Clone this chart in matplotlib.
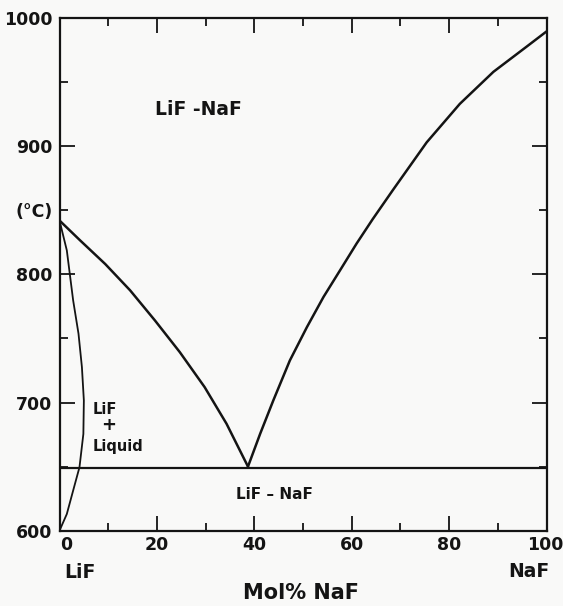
import matplotlib
matplotlib.use("Agg")
import matplotlib.pyplot as plt
from matplotlib.transforms import ScaledTranslation

# ---- data ----
liq_lif_x = [0, 4.2, 9.4, 14.5, 19.6, 24.7, 29.8, 34.3, 38.7]
liq_lif_T = [842, 826.6, 808, 787.5, 764, 739.3, 712, 683.4, 650]

liq_naf_x = [38.7, 41.2, 43.9, 47.3, 50.8, 54.2, 57.6, 61.0, 64.3, 68.5,
             75.4, 82.2, 89.1, 95.9, 100]
liq_naf_T = [650, 675.6, 701.6, 732.8, 758.8, 782.3, 803.1, 824, 843, 866,
             903, 933, 958, 977.6, 989.5]

sol_x = [0, 1.5, 2.8, 3.9, 4.6, 5.0, 4.9, 4.1, 2.8, 1.5, 0]
sol_T = [842, 818.7, 779.7, 753.7, 727.6, 701.6, 675.5, 649.5, 631.3, 613, 600]

eutectic_T = 649
x_range = [0, 100]

xticks_major = [0, 20, 40, 60, 80, 100]
xtick_labels = ["0", "20", "40", "60", "80", "100"]
xticks_minor = [10, 30, 50, 70, 90]
yticks_major = [600, 700, 800, 900, 1000]
ytick_labels = ["600", "700", "800", "900", "1000"]
yticks_minor = [650, 750, 850, 950]
ytick_minor_labels = ["", "", "(°C)", ""]

bg = "#f9f9f8"
ink = "#141414"
font = "DejaVu Sans"

fig = plt.figure(figsize=(5.63, 6.06), dpi=100, facecolor=bg)
ax = fig.add_axes([0.1057, 0.1243, 0.865, 0.8460], facecolor=bg)

ax.plot(liq_lif_x, liq_lif_T, color=ink, lw=1.8, solid_capstyle="round",
        solid_joinstyle="round")
ax.plot(liq_naf_x, liq_naf_T, color=ink, lw=1.8, solid_capstyle="round",
        solid_joinstyle="round")
ax.plot(sol_x, sol_T, color=ink, lw=1.3, solid_joinstyle="round")
ax.plot(x_range, [eutectic_T, eutectic_T], color=ink, lw=1.6)

ax.set_xlim(0, 100)
ax.set_ylim(600, 1000)

for s in ax.spines.values():
    s.set_linewidth(1.6)
    s.set_color(ink)

ax.set_xticks(xticks_major, xtick_labels)
ax.set_xticks(xticks_minor, minor=True)
ax.set_yticks(yticks_major, ytick_labels)
ax.set_yticks(yticks_minor, ytick_minor_labels, minor=True)

ax.tick_params(which="both", direction="in", top=True, right=True,
               colors=ink, width=1.3)
ax.tick_params(which="major", length=11, pad=5)
ax.tick_params(which="minor", length=5.5, pad=5)
ax.tick_params(axis="x", which="both", pad=4)
ax.tick_params(axis="both", which="both", labelsize=12.5)
for lbl in ax.get_xticklabels() + ax.get_yticklabels() + ax.get_yticklabels(minor=True):
    lbl.set_fontfamily(font)
    lbl.set_fontweight("bold")

xl = ax.get_xticklabels()
xl[0].set_transform(xl[0].get_transform() + ScaledTranslation(7/100, 0, fig.dpi_scale_trans))
xl[-1].set_transform(xl[-1].get_transform() + ScaledTranslation(-1/100, 0, fig.dpi_scale_trans))

# annotations
ax.text(0.196, 0.8206, "LiF -NaF", transform=ax.transAxes, fontsize=13.5,
        family=font, fontweight="bold", color=ink, ha="left", va="center")
ax.text(0.069, 0.2354, "LiF", transform=ax.transAxes, fontsize=10.5,
        family=font, fontweight="bold", color=ink, ha="left", va="center")
ax.text(0.1016, 0.2060, "+", transform=ax.transAxes, fontsize=13,
        family=font, fontweight="bold", color=ink, ha="center", va="center")
ax.text(0.069, 0.1650, "Liquid", transform=ax.transAxes, fontsize=10.5,
        family=font, fontweight="bold", color=ink, ha="left", va="center")
ax.text(0.4405, 0.0696, "LiF – NaF", transform=ax.transAxes, fontsize=11,
        family=font, fontweight="bold", color=ink, ha="center", va="center")

ax.text(0.042, -0.081, "LiF", transform=ax.transAxes, fontsize=13.5,
        family=font, fontweight="bold", color=ink, ha="center", va="center", clip_on=False)
ax.text(0.964, -0.080, "NaF", transform=ax.transAxes, fontsize=13.5,
        family=font, fontweight="bold", color=ink, ha="center", va="center", clip_on=False)
ax.text(0.496, -0.1215, "Mol% NaF", transform=ax.transAxes, fontsize=15,
        family=font, fontweight="bold", color=ink, ha="center", va="center", clip_on=False)

fig.savefig("out.png", dpi=100, facecolor=bg)
